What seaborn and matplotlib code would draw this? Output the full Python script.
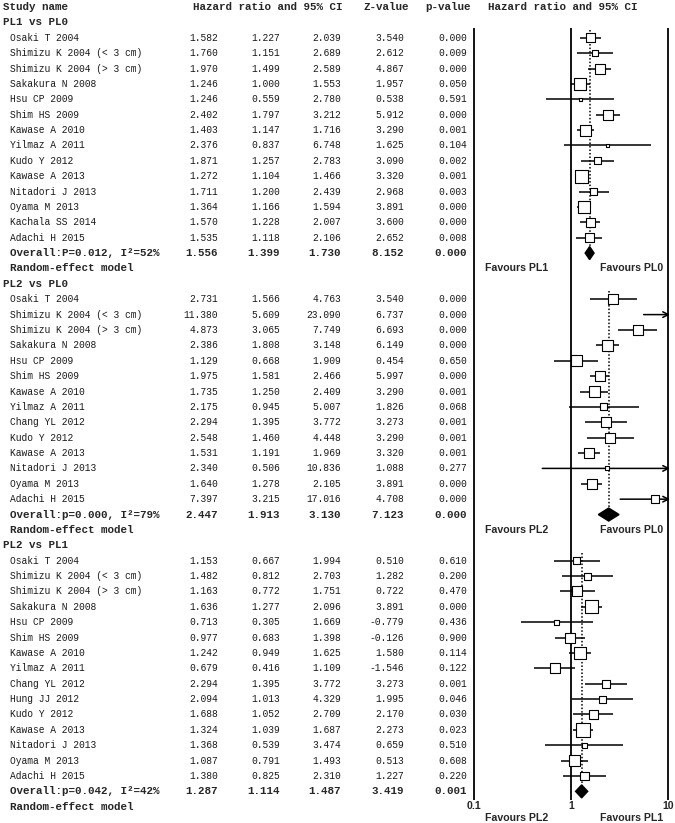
import seaborn as sns
import matplotlib.pyplot as plt
import pandas as pd
import numpy as np

# ---- datos: PL1 vs PL0 ----
s1_names = ['Osaki T 2004', 'Shimizu K 2004 (< 3 cm)', 'Shimizu K 2004 (> 3 cm)',
            'Sakakura N 2008', 'Hsu CP 2009', 'Shim HS 2009', 'Kawase A 2010',
            'Yilmaz A 2011', 'Kudo Y 2012', 'Kawase A 2013', 'Nitadori J 2013',
            'Oyama M 2013', 'Kachala SS 2014', 'Adachi H 2015']
s1_hr = [1.582, 1.760, 1.970, 1.246, 1.246, 2.402, 1.403, 2.376, 1.871, 1.272, 1.711, 1.364, 1.570, 1.535]
s1_lo = [1.227, 1.151, 1.499, 1.000, 0.559, 1.797, 1.147, 0.837, 1.257, 1.104, 1.200, 1.166, 1.228, 1.118]
s1_hi = [2.039, 2.689, 2.589, 1.553, 2.780, 3.212, 1.716, 6.748, 2.783, 1.466, 2.439, 1.594, 2.007, 2.106]
s1_z = [3.540, 2.612, 4.867, 1.957, 0.538, 5.912, 3.290, 1.625, 3.090, 3.320, 2.968, 3.891, 3.600, 2.652]
s1_p = [0.000, 0.009, 0.000, 0.050, 0.591, 0.000, 0.001, 0.104, 0.002, 0.001, 0.003, 0.000, 0.000, 0.008]
s1_box = [9, 6, 10, 12, 3, 10, 11, 3, 7, 13, 7, 12, 9, 9]
s1_overall = [1.556, 1.399, 1.730, 8.152, 0.000]
s1_label = 'Overall:P=0.012, I²=52%'

# ---- PL2 vs PL0 ----
s2_names = ['Osaki T 2004', 'Shimizu K 2004 (< 3 cm)', 'Shimizu K 2004 (> 3 cm)',
            'Sakakura N 2008', 'Hsu CP 2009', 'Shim HS 2009', 'Kawase A 2010',
            'Yilmaz A 2011', 'Chang YL 2012', 'Kudo Y 2012', 'Kawase A 2013',
            'Nitadori J 2013', 'Oyama M 2013', 'Adachi H 2015']
s2_hr = [2.731, 11.380, 4.873, 2.386, 1.129, 1.975, 1.735, 2.175, 2.294, 2.548, 1.531, 2.340, 1.640, 7.397]
s2_lo = [1.566, 5.609, 3.065, 1.808, 0.668, 1.581, 1.250, 0.945, 1.395, 1.460, 1.191, 0.506, 1.278, 3.215]
s2_hi = [4.763, 23.090, 7.749, 3.148, 1.909, 2.466, 2.409, 5.007, 3.772, 4.448, 1.969, 10.836, 2.105, 17.016]
s2_z = [3.540, 6.737, 6.693, 6.149, 0.454, 5.997, 3.290, 1.826, 3.273, 3.290, 3.320, 1.088, 3.891, 4.708]
s2_p = [0.000, 0.000, 0.000, 0.000, 0.650, 0.000, 0.001, 0.068, 0.001, 0.001, 0.001, 0.277, 0.000, 0.000]
s2_box = [10, 8, 10, 11, 11, 10, 11, 7, 10, 10, 10, 4, 10, 8]
s2_overall = [2.447, 1.913, 3.130, 7.123, 0.000]
s2_label = 'Overall:p=0.000, I²=79%'

# ---- PL2 vs PL1 ----
s3_names = ['Osaki T 2004', 'Shimizu K 2004 (< 3 cm)', 'Shimizu K 2004 (> 3 cm)',
            'Sakakura N 2008', 'Hsu CP 2009', 'Shim HS 2009', 'Kawase A 2010',
            'Yilmaz A 2011', 'Chang YL 2012', 'Hung JJ 2012', 'Kudo Y 2012',
            'Kawase A 2013', 'Nitadori J 2013', 'Oyama M 2013', 'Adachi H 2015']
s3_hr = [1.153, 1.482, 1.163, 1.636, 0.713, 0.977, 1.242, 0.679, 2.294, 2.094, 1.688, 1.324, 1.368, 1.087, 1.380]
s3_lo = [0.667, 0.812, 0.772, 1.277, 0.305, 0.683, 0.949, 0.416, 1.395, 1.013, 1.052, 1.039, 0.539, 0.791, 0.825]
s3_hi = [1.994, 2.703, 1.751, 2.096, 1.669, 1.398, 1.625, 1.109, 3.772, 4.329, 2.709, 1.687, 3.474, 1.493, 2.310]
s3_z = [0.510, 1.282, 0.722, 3.891, -0.779, -0.126, 1.580, -1.546, 3.273, 1.995, 2.170, 2.273, 0.659, 0.513, 1.227]
s3_p = [0.610, 0.200, 0.470, 0.000, 0.436, 0.900, 0.114, 0.122, 0.001, 0.046, 0.030, 0.023, 0.510, 0.608, 0.220]
s3_box = [7, 7, 10, 13, 5, 10, 12, 10, 8, 7, 9, 14, 5, 11, 9]
s3_overall = [1.287, 1.114, 1.487, 3.419, 0.001]
s3_label = 'Overall:p=0.042, I²=42%'

sections = [
    ('PL1 vs PL0', s1_names, s1_hr, s1_lo, s1_hi, s1_z, s1_p, s1_box, s1_overall, s1_label, ('Favours PL1', 'Favours PL0')),
    ('PL2 vs PL0', s2_names, s2_hr, s2_lo, s2_hi, s2_z, s2_p, s2_box, s2_overall, s2_label, ('Favours PL2', 'Favours PL0')),
    ('PL2 vs PL1', s3_names, s3_hr, s3_lo, s3_hi, s3_z, s3_p, s3_box, s3_overall, s3_label, ('Favours PL2', 'Favours PL1')),
]

sns.set_style('white')
mono = ['Liberation Mono', 'DejaVu Sans Mono']
sans = ['Liberation Sans', 'DejaVu Sans']
txt_col = '#1a1a1a'

fig = plt.figure(figsize=(6.75, 8.23), dpi=100)
ax_t = fig.add_axes([0, 0, 1, 1])
ax_t.set_xlim(0, 675)
ax_t.set_ylim(823, 0)
ax_t.axis('off')

ax_f = fig.add_axes([474 / 675, 0, 194 / 675, 1])
ax_f.set_xscale('log')
ax_f.set_xlim(0.1, 10)
ax_f.set_ylim(823, 0)
ax_f.axis('off')

y0, dy = 7, 15.38
def row_y(i):
    return y0 + i * dy

cols_r = [218, 280, 341, 404, 467]
fs, fsb = 6.9, 7.8

# cabecera
ax_t.text(3, row_y(0), 'Study name', fontfamily=mono, fontweight='bold', fontsize=fsb, va='center')
ax_t.text(193, row_y(0), 'Hazard ratio and 95% CI', fontfamily=mono, fontweight='bold', fontsize=fsb, va='center')
ax_t.text(363, row_y(0), 'Z-value', fontfamily=mono, fontweight='bold', fontsize=fsb, va='center')
ax_t.text(425, row_y(0), 'p-value', fontfamily=mono, fontweight='bold', fontsize=fsb, va='center')
ax_t.text(488, row_y(0), 'Hazard ratio and 95% CI', fontfamily=mono, fontweight='bold', fontsize=fsb, va='center')

rows = []
line = 1
for title, names, hr, lo, hi, z, p, box, ov, ov_label, fav in sections:
    ax_t.text(3, row_y(line), title, fontfamily=mono, fontweight='bold', fontsize=fsb, va='center')
    first = line + 1
    for k in range(len(names)):
        line += 1
        y = row_y(line)
        ax_t.text(10, y, names[k], fontfamily=mono, fontsize=fs, va='center', color=txt_col)
        for c, v in zip(cols_r, [hr[k], lo[k], hi[k], z[k], p[k]]):
            ax_t.text(c, y, f'{v:.3f}', fontfamily=mono, fontsize=fs, va='center', ha='right', color=txt_col)
        rows.append(dict(y=y, hr=hr[k], lo=lo[k], hi=hi[k], box=box[k]))
    line += 1
    y_ov = row_y(line)
    ax_t.text(10, y_ov, ov_label, fontfamily=mono, fontweight='bold', fontsize=fsb, va='center')
    for c, v in zip(cols_r, ov):
        ax_t.text(c, y_ov, f'{v:.3f}', fontfamily=mono, fontweight='bold', fontsize=fsb, va='center', ha='right')
    # diamante
    ax_f.fill([ov[1], ov[0], ov[2], ov[0]], [y_ov, y_ov - 6.5, y_ov, y_ov + 6.5], color='black', zorder=4)
    # linea punteada en el efecto combinado
    ax_f.vlines(ov[0], row_y(first) - 8, y_ov, colors='black', linestyles=(0, (1, 1.3)), lw=1.1, zorder=1)
    line += 1
    ax_t.text(10, row_y(line), 'Random-effect model', fontfamily=mono, fontweight='bold', fontsize=fsb, va='center')
    fav_y = row_y(line) if title != 'PL2 vs PL1' else 818
    ax_t.text(517, fav_y, fav[0], fontfamily=sans, fontweight='bold', fontsize=7.6, va='center', ha='center')
    ax_t.text(632, fav_y, fav[1], fontfamily=sans, fontweight='bold', fontsize=7.6, va='center', ha='center')
    line += 1

df = pd.DataFrame(rows)
df['area'] = (df['box'] / 1.389) ** 2

# ejes verticales
ax_f.vlines([0.1, 1, 10], 28, 800, colors='black', lw=1.3, clip_on=False, zorder=2)

# intervalos de confianza
for r in df.itertuples():
    if r.hi > 10:
        ax_f.annotate('', xy=(10.5, r.y), xytext=(r.lo, r.y), annotation_clip=False,
                      arrowprops=dict(arrowstyle='->', lw=1.1, color='black', shrinkA=0, shrinkB=0))
    else:
        ax_f.hlines(r.y, r.lo, r.hi, colors='black', lw=1.1, zorder=3)

sq = df[df['hr'] < 10]
sns.scatterplot(data=sq, x='hr', y='y', size='area', sizes=(df['area'].min(), df['area'].max()),
                size_norm=(df['area'].min(), df['area'].max()), marker='s', color='white',
                edgecolor='black', linewidth=0.8, legend=False, ax=ax_f, zorder=5)
ax_f.set_xlim(0.1, 10)
ax_f.set_ylim(823, 0)
ax_f.axis('off')

for v, lab in zip([0.1, 1, 10], ['0.1', '1', '10']):
    ax_f.text(v, 806, lab, fontfamily=sans, fontweight='bold', fontsize=7.6, ha='center', va='center', clip_on=False)

fig.savefig('out.png', dpi=100, facecolor='white')
